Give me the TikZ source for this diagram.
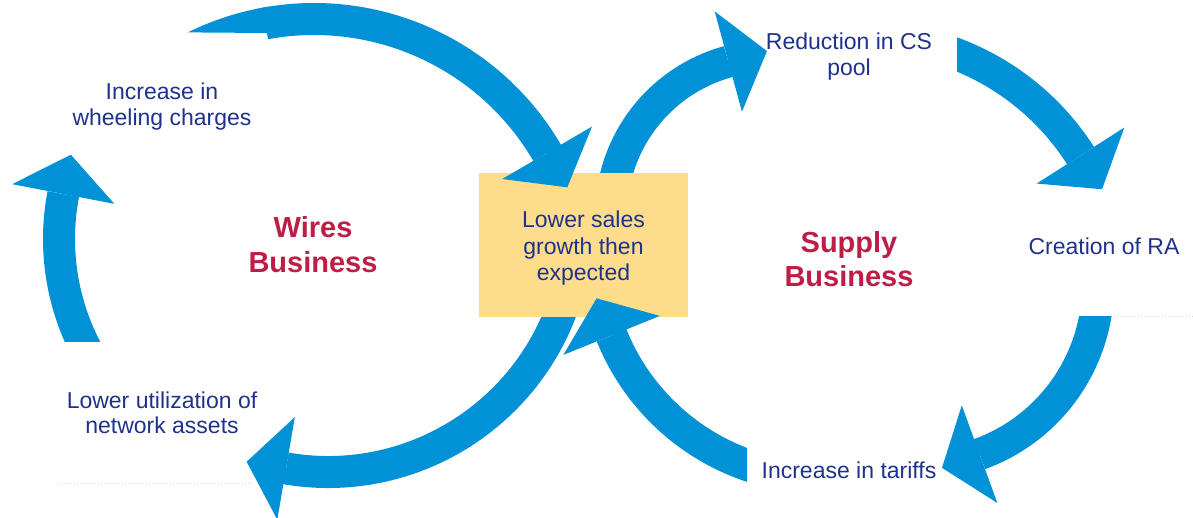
\documentclass[tikz,border=0pt]{standalone}
\usepackage{fontspec}
\setmainfont{Liberation Sans}
\usetikzlibrary{arrows.meta}
\definecolor{arrowblue}{RGB}{0,145,215}
\definecolor{textblue}{RGB}{30,50,140}
\definecolor{titlered}{RGB}{190,30,70}
\definecolor{boxyellow}{RGB}{253,221,140}
\definecolor{dotgrey}{RGB}{215,215,215}
\tikzset{
  bigarrow/.style={draw=arrowblue, line width=32pt,
    -{Triangle[length=40pt,width=104pt,line width=0pt]}},
  lbl/.style={text=textblue, font=\fontsize{23}{26}\selectfont, inner sep=0pt, anchor=base},
  ttl/.style={text=titlered, font=\fontsize{29}{34}\selectfont\bfseries, inner sep=0pt, anchor=base},
  yellowbox/.style={fill=boxyellow, draw=none, minimum width=209pt, minimum height=144pt, inner sep=0pt},
  faint/.style={draw=dotgrey, line width=1pt, dotted}
}
\begin{document}
\begin{tikzpicture}[x=1pt,y=-1pt]
\useasboundingbox (0,0) rectangle (1193,518);
% arc centres
\coordinate (cA) at (314,289);
\coordinate (cB) at (297,239);
\coordinate (cC) at (328,223);
\coordinate (cD) at (770,215);
\coordinate (cE) at (823,250);
\coordinate (cF) at (864,294);
\coordinate (cG) at (918,285);
% faint dotted rules
\coordinate (d1a) at (59,483); \coordinate (d1b) at (252,483);
\coordinate (d2a) at (1114,317); \coordinate (d2b) at (1193,317);
\draw[faint] (d1a) -- (d1b);
\draw[faint] (d2a) -- (d2b);
% arrows passing under the box
\draw[bigarrow] ([shift={(12:249)}]cC) arc[start angle=12, end angle=99.7, radius=249] -- ++(189.7:40);
\draw[bigarrow] ([shift={(190:159)}]cD) arc[start angle=190, end angle=254.8, radius=159] -- ++(344.8:40);
% central box
\node[yellowbox] (box) at (583.5,245) {};
\node[lbl] (box1) at (583.5,228) {Lower sales};
\node[lbl] (box2) at (583.5,254.5) {growth then};
\node[lbl] (box3) at (583.5,281) {expected};
% arrow A (wheeling charges -> box) with tapered tail
\coordinate (tailA) at (267.5,33);
\fill[arrowblue] ([shift={(243.8:286)}]cA) arc[start angle=243.8, end angle=261, radius=286] -- (tailA) -- cycle;
\draw[bigarrow] ([shift={(259.6:270)}]cA) arc[start angle=259.6, end angle=329.7, radius=270] -- ++(59.7:40);
% arrow B (network assets -> wheeling charges)
\begin{scope}
  \clip (0,0) rectangle (1193,341);
  \draw[bigarrow] ([shift={(148:238)}]cB) arc[start angle=148, end angle=190.9, radius=238] -- ++(280.9:40);
\end{scope}
% arrow E (tariffs -> box)
\begin{scope}
  \clip (0,0) rectangle (747,518);
  \draw[bigarrow] ([shift={(104:228)}]cE) arc[start angle=104, end angle=158, radius=228] -- ++(248:40);
\end{scope}
% arrow F (CS pool -> RA)
\begin{scope}
  \clip (957,0) rectangle (1193,518);
  \draw[bigarrow] ([shift={(284:257)}]cF) arc[start angle=284, end angle=327.4, radius=257] -- ++(57.4:40);
\end{scope}
% arrow G (RA -> tariffs)
\begin{scope}
  \clip (0,317) rectangle (1193,518);
  \draw[bigarrow] ([shift={(0:180)}]cG) arc[start angle=0, end angle=70, radius=180] -- ++(160:40);
\end{scope}
% labels
\node[lbl] (wh1) at (162,100) {Increase in};
\node[lbl] (wh2) at (162,125.5) {wheeling charges};
\node[lbl] (lu1) at (162,408) {Lower utilization of};
\node[lbl] (lu2) at (162,433.5) {network assets};
\node[lbl] (cs1) at (849,50) {Reduction in CS};
\node[lbl] (cs2) at (849,76) {pool};
\node[lbl] (ra) at (1104,255) {Creation of RA};
\node[lbl] (tar) at (849,478) {Increase in tariffs};
\node[ttl] (wb1) at (313,238) {Wires};
\node[ttl] (wb2) at (313,273) {Business};
\node[ttl] (sb1) at (849,253) {Supply};
\node[ttl] (sb2) at (849,287) {Business};
\end{tikzpicture}
\end{document}
